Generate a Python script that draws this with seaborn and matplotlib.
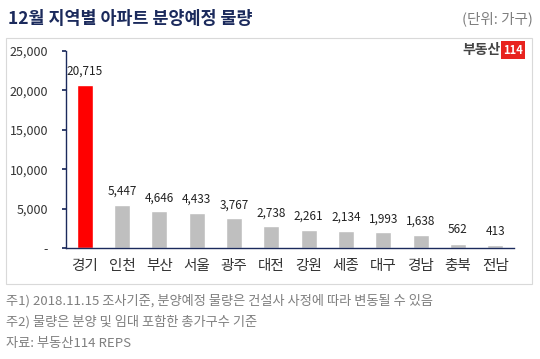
import matplotlib.pyplot as plt
import matplotlib.patches as mpatches
import seaborn as sns
import pandas as pd
import numpy as np

# 데이터
regions = ['경기', '인천', '부산', '서울', '광주', '대전', '강원', '세종', '대구', '경남', '충북', '전남']
units = [20715, 5447, 4646, 4433, 3767, 2738, 2261, 2134, 1993, 1638, 562, 413]
y_ticks = [0, 5000, 10000, 15000, 20000, 25000]
y_tick_labels = ['-', '5,000', '10,000', '15,000', '20,000', '25,000']

sns.set_theme(style='white')
plt.rcParams['font.family'] = ['Noto Sans CJK KR', 'DejaVu Sans']

NAVY = '#1b2a5c'
GRAY_TXT = '#7f7f7f'

df = pd.DataFrame({'지역': regions, '가구': units})
colors = {r: ('#ff0000' if r == '경기' else '#bfbfbf') for r in regions}

fig = plt.figure(figsize=(5.4, 3.59), dpi=100)
ax = fig.add_axes([66 / 540, 1 - 248 / 359, 448 / 540, 197 / 359])

sns.barplot(data=df, x='지역', y='가구', hue='지역', palette=colors,
            width=0.43, legend=False, ax=ax, saturation=1)

ax.set_ylim(0, 25000)
ax.set_xlim(-0.5, len(regions) - 0.5)
ax.set_yticks(y_ticks)
ax.set_yticklabels(y_tick_labels, fontsize=9, color='#333333')
ax.set_xticks(range(len(regions)))
ax.set_xticklabels(regions, fontsize=10.5, color='#333333')
ax.set_xticks(np.arange(0.5, len(regions) + 0.5, 1), minor=True)
ax.tick_params(axis='x', which='major', length=0, pad=8)
ax.tick_params(axis='x', which='minor', length=3, color=NAVY, direction='out')
ax.tick_params(axis='y', length=3, color=NAVY, direction='out', pad=10, left=True)
ax.set_xlabel('')
ax.set_ylabel('')
for s in ['top', 'right']:
    ax.spines[s].set_visible(False)
for s in ['left', 'bottom']:
    ax.spines[s].set_color(NAVY)
    ax.spines[s].set_linewidth(1)

# 막대 위 값
for i, v in enumerate(units):
    ax.text(i, v + 900, f'{v:,}', ha='center', va='bottom', fontsize=8.5, color='#222222')

# 테두리 박스
fig.patches.append(mpatches.Rectangle((6 / 540, 1 - 284 / 359), 526 / 540, 246 / 359,
                                      transform=fig.transFigure, fill=False,
                                      edgecolor='#d9d9d9', linewidth=0.8))

# 제목
fig.text(8 / 540, 1 - 19 / 359, '12월 지역별 아파트 분양예정 물량', fontsize=12.5,
         fontweight='bold', color=NAVY, va='center', ha='left')
fig.text(533 / 540, 1 - 19 / 359, '(단위: 가구)', fontsize=10.5, color=GRAY_TXT,
         va='center', ha='right')

# 로고
fig.text(501 / 540, 1 - 50 / 359, '부동산', fontsize=10, fontweight='bold',
         color='#444444', va='center', ha='right')
fig.text(513 / 540, 1 - 50 / 359, '114', fontsize=8, fontweight='bold', color='white',
         va='center', ha='center',
         bbox=dict(boxstyle='square,pad=0.2', facecolor='#e8231f', edgecolor='none'))

# 주석
notes = ['주1) 2018.11.15 조사기준, 분양예정 물량은 건설사 사정에 따라 변동될 수 있음',
         '주2) 물량은 분양 및 임대 포함한 총가구수 기준',
         '자료: 부동산114 REPS']
for k, note in enumerate(notes):
    fig.text(6 / 540, 1 - (301 + k * 21) / 359, note, fontsize=9.5, color=GRAY_TXT,
             va='center', ha='left')

plt.savefig('out.png', dpi=100, facecolor='white')
plt.close()
